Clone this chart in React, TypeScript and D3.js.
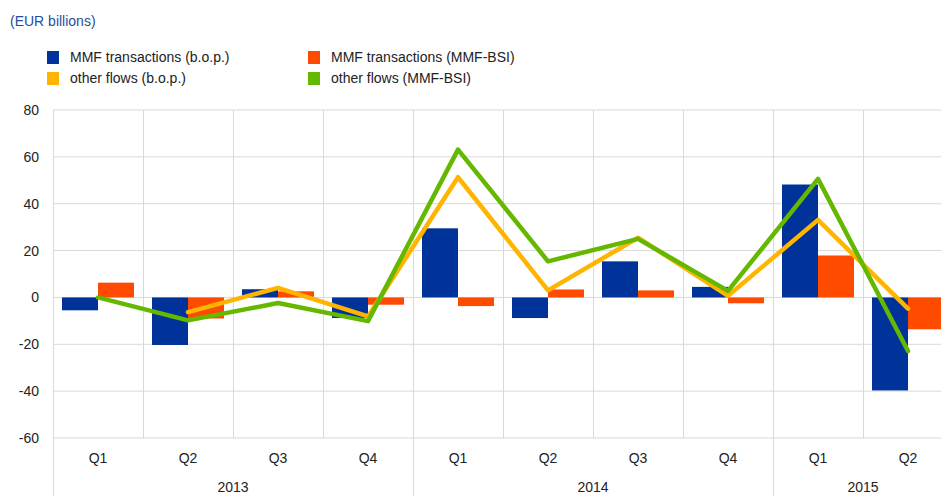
import React from "react";
import * as d3 from "d3";

const quarters = ["Q1", "Q2", "Q3", "Q4", "Q1", "Q2", "Q3", "Q4", "Q1", "Q2"];
const years = ["2013", "2014", "2015"];
const yearSpans = [4, 4, 2];
const mmfBop = [-5.5, -20.3, 3.5, -8.8, 29.5, -8.8, 15.4, 4.5, 48.2, -39.7];
const mmfBsi = [6.3, -9.0, 2.6, -3.1, -3.7, 3.4, 3.0, -2.5, 17.9, -13.6];
const otherBop: (number | null)[] = [null, -6.3, 4.1, -8.1, 51.3, 3.0, 25.5, 0.7, 33.1, -4.8];
const otherBsi = [0.0, -9.8, -2.4, -10.1, 63.1, 15.4, 25.0, 2.8, 50.6, -22.9];
const yTicks = [80, 60, 40, 20, 0, -20, -40, -60];

const C_BLUE = "#003399";
const C_ORANGE = "#ff4b00";
const C_YELLOW = "#ffb400";
const C_GREEN = "#65b800";
const GRID = "#d9d9d9";
const FONT = "'Liberation Sans', Arial, sans-serif";

export default function App() {
  const W = 941, H = 496;
  const left = 53, right = 953, top = 110, bottom = 438;
  const idx = quarters.map((_, i) => i);
  const x = d3.scaleBand<number>().domain(idx).range([left, right]).paddingInner(0).paddingOuter(0);
  const y = d3.scaleLinear().domain([-60, 80]).range([bottom, top]);
  const bw = x.bandwidth();
  const inner = d3.scaleBand<number>().domain([0, 1]).range([0, bw]).paddingOuter(0.25).paddingInner(0);
  const cx = (i: number) => (x(i) as number) + bw / 2;

  const line = d3
    .line<number | null>()
    .defined((d) => d !== null)
    .x((_, i) => cx(i))
    .y((d) => y(d as number));

  const yearStarts: number[] = [];
  let acc = 0;
  yearSpans.forEach((s) => {
    yearStarts.push(acc);
    acc += s;
  });

  const legend = [
    { label: "MMF transactions (b.o.p.)", color: C_BLUE, x: 47, y: 57 },
    { label: "MMF transactions (MMF-BSI)", color: C_ORANGE, x: 308, y: 57 },
    { label: "other flows (b.o.p.)", color: C_YELLOW, x: 47, y: 78 },
    { label: "other flows (MMF-BSI)", color: C_GREEN, x: 308, y: 78 },
  ];

  return (
    <svg
      width={W}
      height={H}
      style={{ position: "absolute", left: 0, top: 0, background: "#fff" }}
      fontFamily={FONT}
    >
      <text x={10} y={26} fontSize={14} fill="#1f4e9e">(EUR billions)</text>
      {legend.map((l) => (
        <g key={l.label}>
          <rect x={l.x} y={l.y - 6} width={12} height={13} fill={l.color} />
          <text x={l.x + 23} y={l.y + 5} fontSize={14} fill="#222">{l.label}</text>
        </g>
      ))}
      {yTicks.map((t) => (
        <g key={t}>
          <line x1={left} x2={right} y1={y(t)} y2={y(t)} stroke={GRID} strokeWidth={1} />
          <text x={39} y={y(t) + 5} fontSize={14} textAnchor="end" fill="#222">{t}</text>
        </g>
      ))}
      {idx.map((i) => (
        <line key={i} x1={(x(i) as number) + 0.5} x2={(x(i) as number) + 0.5} y1={top} y2={bottom} stroke={GRID} />
      ))}
      {yearStarts.map((s) => (
        <line key={"ys" + s} x1={(x(s) as number) + 0.5} x2={(x(s) as number) + 0.5} y1={bottom} y2={H} stroke={GRID} />
      ))}
      {mmfBop.map((v, i) => (
        <rect key={"b" + i} x={(x(i) as number) + (inner(0) as number)} width={inner.bandwidth()} y={y(Math.max(0, v))} height={Math.abs(y(v) - y(0))} fill={C_BLUE} />
      ))}
      {mmfBsi.map((v, i) => (
        <rect key={"o" + i} x={(x(i) as number) + (inner(1) as number)} width={inner.bandwidth()} y={y(Math.max(0, v))} height={Math.abs(y(v) - y(0))} fill={C_ORANGE} />
      ))}
      <path d={line(otherBop) || ""} fill="none" stroke={C_YELLOW} strokeWidth={4.5} strokeLinejoin="round" strokeLinecap="round" />
      <path d={line(otherBsi) || ""} fill="none" stroke={C_GREEN} strokeWidth={4.5} strokeLinejoin="round" strokeLinecap="round" />
      {quarters.map((q, i) => (
        <text key={"q" + i} x={cx(i)} y={463} fontSize={14} textAnchor="middle" fill="#222">{q}</text>
      ))}
      {years.map((yr, k) => {
        const s = yearStarts[k];
        const e = s + yearSpans[k];
        const mid = ((x(s) as number) + (x(e - 1) as number) + bw) / 2;
        return (
          <text key={yr} x={mid} y={492} fontSize={14} textAnchor="middle" fill="#222">{yr}</text>
        );
      })}
    </svg>
  );
}
